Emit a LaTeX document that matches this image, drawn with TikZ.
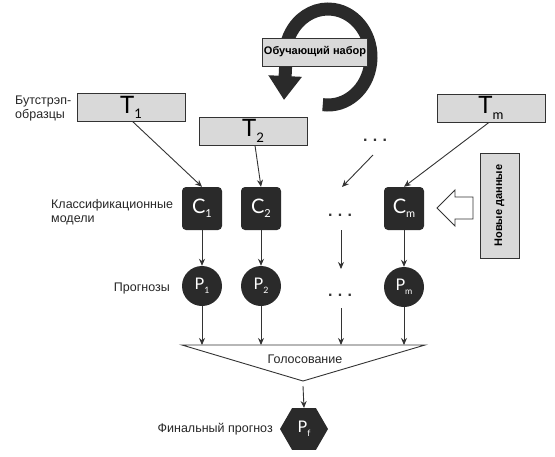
\documentclass[tikz,border=0pt]{standalone}
\usepackage{fontspec}
\setmainfont{Liberation Sans}
\newfontfamily\bigfont{Lato}
\usetikzlibrary{arrows.meta,shapes.geometric}
\definecolor{boxgray}{HTML}{D9D9D9}
\definecolor{darkbox}{HTML}{2A2A2A}
\definecolor{linecol}{HTML}{333333}
\newcommand{\biglab}[3]{{\bigfont\fontsize{#3}{#3}\selectfont #1\raisebox{-0.22em}{\fontsize{0.55em}{0.55em}\selectfont #2}}}
\tikzset{
  tbox/.style={draw=linecol, line width=0.8pt, fill=boxgray, minimum width=108pt, minimum height=28pt, inner sep=0pt},
  cbox/.style={fill=darkbox, rounded corners=4pt, minimum width=40pt, minimum height=43pt, text=white, inner sep=0pt},
  pcirc/.style={circle, fill=darkbox, minimum size=40pt, text=white, inner sep=0pt},
  lbl/.style={font=\fontsize{12.5}{14}\selectfont, text=black!85, inner sep=0pt},
  arr/.style={draw=linecol, line width=0.9pt, -{Stealth[length=7pt,width=6pt]}},
  dots/.style={font=\fontsize{16}{16}\selectfont\bfseries, text=linecol, inner sep=0pt}
}
\begin{document}
\begin{tikzpicture}[x=1pt,y=-1pt]
\useasboundingbox (0,0) rectangle (555,456);
% circular arrow
\coordinate (ctip) at (284,100);
\draw[line width=13pt, darkbox, -{Triangle[length=24pt,width=32pt]}] (328,57) ++(97:43 and 48) arc[start angle=97, end angle=-190, x radius=43, y radius=48] -- (ctip);
\node[draw=linecol, line width=0.8pt, fill=boxgray, minimum width=105pt, minimum height=28pt, font=\fontsize{11}{11}\selectfont\bfseries, inner sep=0pt] (train) at (315,52) {Обучающий набор};
% T boxes
\node[tbox] (T1) at (131,107.5) {\biglab{T}{1}{24}};
\node[tbox] (T2) at (253,131) {\biglab{T}{2}{24}};
\node[tbox] (Tm) at (491,108) {\biglab{T}{m}{24}};
\node[dots] (d1) at (375,140) {.\,\,.\,\,.};
% C boxes
\node[cbox] (C1) at (202,208.5) {\biglab{C}{1}{20}};
\node[cbox] (C2) at (261,208.5) {\biglab{C}{2}{20}};
\node[cbox] (Cm) at (404,208.5) {\biglab{C}{m}{20}};
\node[dots] (d2) at (340,215) {.\,\,.\,\,.};
% P circles
\node[pcirc] (P1) at (202,286) {\biglab{P}{1}{16}};
\node[pcirc] (P2) at (261,286) {\biglab{P}{2}{16}};
\node[pcirc] (Pm) at (404,287) {\biglab{P}{m}{16}};
\node[dots] (d3) at (340,295) {.\,\,.\,\,.};
% arrows T->C
\draw[arr] (T1.south) ++(2,0) coordinate (t1s) (t1s) -- (C1.north);
\draw[arr] (T2.south) ++(2,0) coordinate (t2s) (t2s) -- (C2.north);
\draw[arr] (Tm.south) ++(-2,0) coordinate (tms) (tms) -- (Cm.north);
\coordinate (d1a) at (373,155);
\coordinate (d1b) at (342,187);
\draw[arr] (d1a) -- (d1b);
% arrows C->P
\draw[arr] (C1) -- (P1);
\draw[arr] (C2) -- (P2);
\draw[arr] (Cm) -- (Pm);
\coordinate (d2a) at (341,230);
\coordinate (d2b) at (341,269);
\draw[arr] (d2a) -- (d2b);
% voting
\coordinate (vl) at (182,345);
\coordinate (vr) at (425,345);
\coordinate (va) at (303,381);
\draw[linecol, line width=0.9pt, fill=white] (vl) -- (vr) -- (va) -- cycle;
\node[lbl] (vote) at (305,359) {Голосование};
\draw[arr] (P1) -- (P1 |- vl);
\draw[arr] (P2) -- (P2 |- vl);
\draw[arr] (Pm) -- (Pm |- vl);
\coordinate (d3a) at (341,308);
\draw[arr] (d3a) -- (d3a |- vl);
% final
\node[regular polygon, regular polygon sides=6, fill=darkbox, minimum size=48pt, inner sep=0pt, text=white] (Pf) at (304,429) {\biglab{P}{f}{16}};
\coordinate (vb) at (303,386);
\draw[arr] (vb) -- (Pf.north);
% new data
\node[draw=linecol, line width=0.8pt, fill=boxgray, rotate=90, minimum width=105pt, minimum height=39pt, font=\fontsize{11}{11}\selectfont\bfseries, inner sep=0pt] (new) at (499.5,205.5) {Новые данные};
\draw[linecol, line width=0.9pt, fill=white] (437,208) -- (455,190) -- (455,197) -- (473,197) -- (473,219) -- (455,219) -- (455,226) -- cycle;
% labels
\node[lbl, anchor=west, align=left] (lb1) at (15,108) {Бутстрэп-\\образцы};
\node[lbl, anchor=west, align=left] (lb2) at (51,212) {Классификационные\\модели};
\node[lbl, anchor=east] (lb3) at (170,288) {Прогнозы};
\node[lbl, anchor=east] (lb4) at (273,429) {Финальный прогноз};
\end{tikzpicture}
\end{document}
